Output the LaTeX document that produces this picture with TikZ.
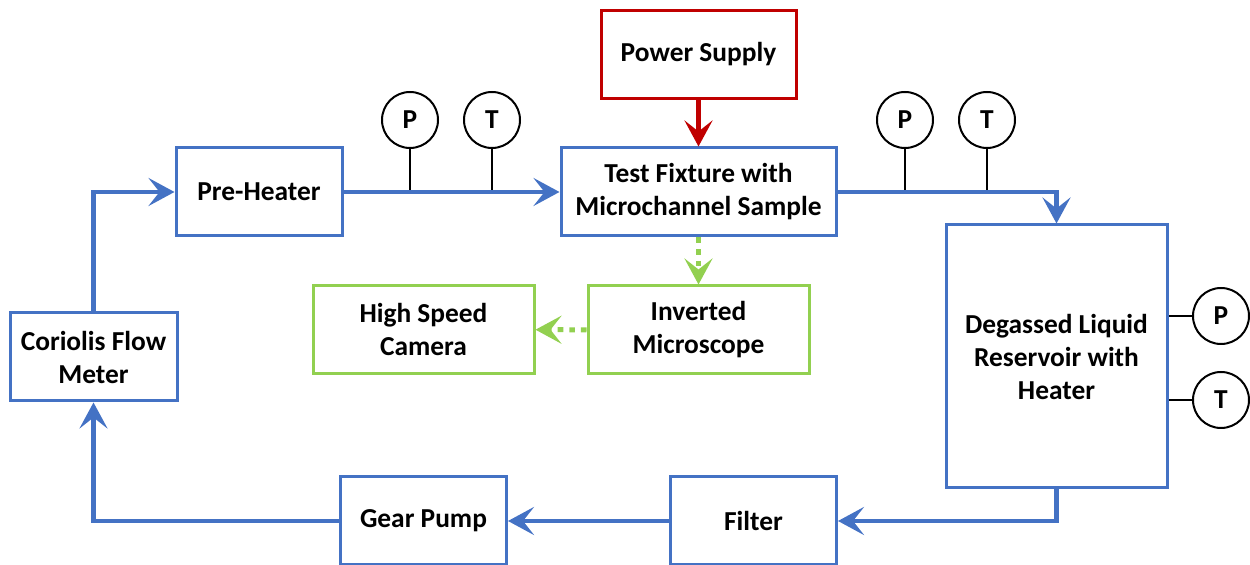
\documentclass[tikz,border=0pt]{standalone}
\usepackage{fontspec}
\setmainfont{Carlito}
\usetikzlibrary{arrows.meta,positioning,calc}
\definecolor{pipe}{HTML}{4472C4}
\definecolor{power}{HTML}{C00000}
\definecolor{optic}{HTML}{92D050}

\begin{document}
\begin{tikzpicture}[x=0.5pt, y=-0.5pt, font=\fontsize{13.7}{16.5}\selectfont\bfseries,
  unit/.style={draw=pipe, line width=1.5pt, minimum height=44pt, align=center, inner sep=2pt},
  gauge/.style={circle, draw, line width=1pt, minimum size=28pt, inner sep=0pt},
  stem/.style={line width=1pt},
  tip/.style={-{Stealth[length=13pt, width=14pt, inset=5.5pt]}},
  flow/.style={tip, draw=pipe, line width=2.25pt},
  supply/.style={tip, draw=power, line width=2.25pt},
  view/.style={tip, draw=optic, line width=2.5pt, dash pattern=on 2.8pt off 3pt}]
\useasboundingbox (0,0) rectangle (1250,565);

% loop components
\node[unit, minimum width=83.5pt] (cor) at (93.5,357) {Coriolis Flow\\Meter};
\node[unit, minimum width=83pt] (heat) at (259,192) {Pre-Heater};
\node[unit, minimum width=137.5pt] (test) at (698.5,192) {Test Fixture with\\Microchannel Sample};
\node[unit, minimum width=110.5pt, minimum height=131.5pt] (res) at (1056.5,356.5) {Degassed Liquid\\Reservoir with\\Heater};
\node[unit, minimum width=83pt] (filt) at (753.5,521) {Filter};
\node[unit, minimum width=83pt] (pump) at (423.5,521) {Gear Pump};

% power and optics
\node[unit, draw=power, minimum width=97.5pt] (pow) at (698.5,54.5) {Power Supply};
\node[unit, draw=optic, minimum width=110.5pt] (mic) at (698.5,330) {Inverted\\Microscope};
\node[unit, draw=optic, minimum width=110.5pt] (cam) at (423.5,329.5) {High Speed\\Camera};

% pressure / temperature taps
\node[gauge] (p1) at (410,120) {P};
\node[gauge] (t1) at (492,120) {T};
\node[gauge] (p2) at (905,120) {P};
\node[gauge] (t2) at (987,120) {T};
\node[gauge] (p3) at (1221,316) {P};
\node[gauge] (t3) at (1221,400) {T};

\foreach \g in {p1,t1,p2,t2} \draw[stem] (\g) -- (\g |- heat.east);
\foreach \g in {p3,t3} \draw[stem] (\g) -- (\g -| res.east);

% flow loop
\draw[flow] (cor.north) |- (heat.west);
\draw[flow] (heat.east) -- (test.west);
\draw[flow] (test.east) -| (res.north);
\draw[flow] (res.south) |- (filt.east);
\draw[flow] (filt.west) -- (pump.east);
\draw[flow] (pump.west) -| (cor.south);

\draw[supply] (pow) -- (test);
\draw[view] (test) -- (mic);
\draw[view] (mic) -- (cam);
\end{tikzpicture}
\end{document}
